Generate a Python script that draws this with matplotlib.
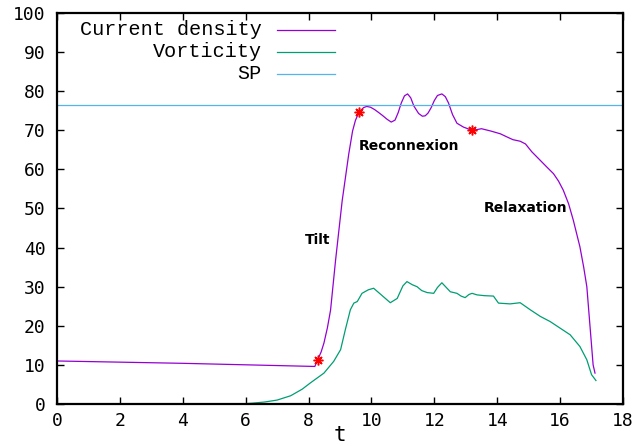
import matplotlib
matplotlib.use('Agg')
import matplotlib.pyplot as plt

# current density (purple)
t_j = [0, 4, 8.2, 8.3, 8.4, 8.49, 8.6, 8.7, 8.86, 9.07, 9.28, 9.4, 9.49, 9.57, 9.65,
       9.75, 9.85, 9.97, 10.1, 10.22, 10.35, 10.5, 10.63, 10.75, 10.85, 10.95, 11.05,
       11.15, 11.25, 11.35, 11.5, 11.62, 11.71, 11.8, 11.9, 12.0, 12.1, 12.24, 12.35,
       12.45, 12.58, 12.72, 12.93, 13.1, 13.23, 13.5, 13.8, 14.1, 14.31, 14.5, 14.73,
       14.9, 15.1, 15.37, 15.59, 15.79, 15.95, 16.1, 16.27, 16.42, 16.63, 16.75,
       16.85, 16.93, 17.0, 17.05, 17.11]
j_val = [11.0, 10.4, 9.6, 11.5, 13.3, 15.6, 19.5, 24.0, 36.8, 52.0, 64.0, 69.8, 72.5,
         74.0, 75.0, 75.8, 76.1, 75.9, 75.3, 74.6, 73.8, 72.8, 72.1, 72.6, 74.5, 77.0,
         78.8, 79.3, 78.3, 76.2, 74.3, 73.6, 73.7, 74.4, 75.8, 77.6, 78.9, 79.3, 78.6,
         77.0, 74.0, 71.8, 70.8, 70.3, 70.0, 70.4, 69.8, 69.1, 68.3, 67.6, 67.2,
         66.5, 64.5, 62.3, 60.5, 58.9, 57.0, 54.7, 51.2, 47.0, 40.2, 35.0,
         30.0, 22.0, 15.0, 10.0, 7.9]

# vorticity (green)
t_w = [5.8, 6.2, 6.6, 7.0, 7.43, 7.8, 8.06, 8.49, 8.8, 9.02, 9.17, 9.33, 9.44, 9.55,
       9.7, 9.9, 10.07, 10.3, 10.6, 10.82, 11.0, 11.13, 11.3, 11.45, 11.6, 11.77,
       11.98, 12.1, 12.24, 12.38, 12.51, 12.72, 12.85, 12.98, 13.1, 13.2, 13.36,
       13.6, 13.88, 14.04, 14.41, 14.73, 15.05, 15.37, 15.68, 16.0, 16.32, 16.63,
       16.85, 17.0, 17.14]
w_val = [0.0, 0.2, 0.5, 1.0, 2.1, 3.8, 5.4, 7.9, 10.9, 13.9, 19.0, 24.1, 25.8, 26.2,
         28.3, 29.2, 29.6, 28.0, 25.9, 27.0, 30.2, 31.3, 30.5, 30.0, 29.0, 28.5,
         28.3, 29.8, 31.0, 29.8, 28.7, 28.3, 27.6, 27.2, 28.0, 28.3, 27.9,
         27.7, 27.6, 25.8, 25.6, 25.9, 24.1, 22.4, 21.1, 19.4, 17.7, 14.7,
         11.3, 7.5, 6.0]

sp_level = 76.5

# phase markers
star_t = [8.3, 9.6, 13.2]
star_v = [11.3, 74.7, 70.1]

phase_labels = ['Tilt', 'Reconnexion', 'Relaxation']
phase_t = [8.3, 11.2, 14.9]
phase_v = [42.0, 66.0, 50.0]

fig = plt.figure(figsize=(6.41, 4.46), dpi=100)
ax = fig.add_axes([0.0889, 0.0942, 0.883, 0.8767])

purple = '#9400d3'
green = '#009e73'
blue = '#56b4e9'

ax.plot(t_j, j_val, color=purple, lw=0.9)
ax.plot(t_w, w_val, color=green, lw=0.9)
ax.axhline(sp_level, color=blue, lw=0.9)
ax.plot(star_t, star_v, ls='none', marker=(8, 2, 0), color='red', ms=7, mew=1.1)

for lab, x, y in zip(phase_labels, phase_t, phase_v):
    ax.text(x, y, lab, ha='center', va='center', fontsize=10,
            fontweight='bold', family='DejaVu Sans')

# gnuplot style key: right aligned text, line sample on the right
names = ['Current density', 'Vorticity', 'SP']
cols = [purple, green, blue]
for i, (n, c) in enumerate(zip(names, cols)):
    y = 0.957 - i * 0.0565
    ax.text(0.362, y, n, transform=ax.transAxes, ha='right', va='center',
            family='Liberation Mono', fontsize=14.5)
    ax.plot([0.389, 0.491], [y, y], transform=ax.transAxes, color=c, lw=0.9)

ax.set_xlim(0, 18)
ax.set_ylim(0, 100)
ax.set_xticks(range(0, 19, 2))
ax.set_yticks(range(0, 101, 10))
ax.tick_params(direction='in', top=True, right=True, length=5, width=1,
               labelsize=13)
ax.tick_params(axis='y', pad=8)
ax.tick_params(axis='x', pad=6)
for lbl in ax.get_xticklabels() + ax.get_yticklabels():
    lbl.set_family('DejaVu Sans Mono')
for s in ax.spines.values():
    s.set_linewidth(1.6)
ax.set_xlabel('t', family='DejaVu Sans Mono', fontsize=15, labelpad=-4)

fig.savefig('out.png', dpi=100)
